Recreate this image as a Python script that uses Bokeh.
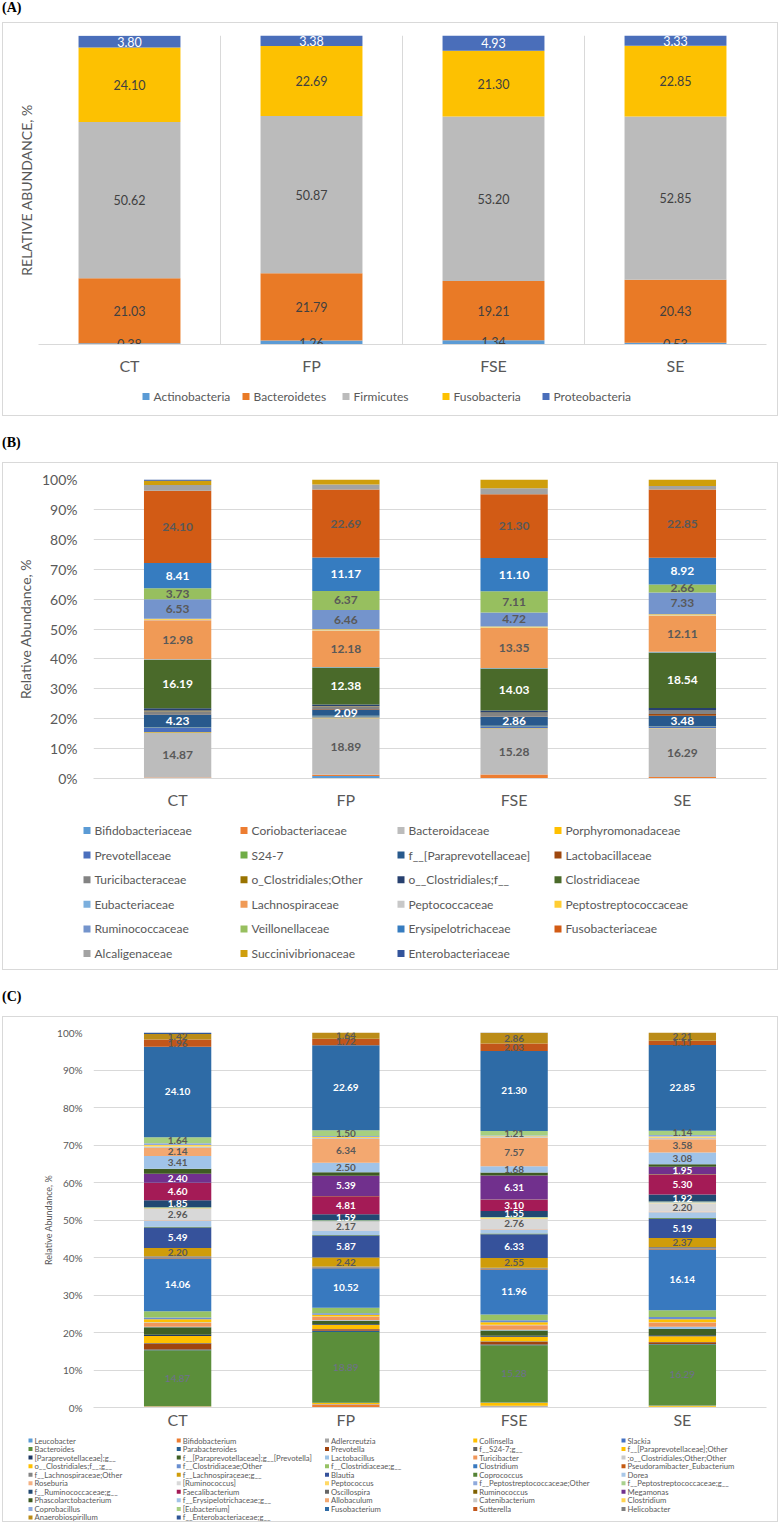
import numpy as np
from bokeh.plotting import figure
from bokeh.models import (ColumnDataSource, FixedTicker, PrintfTickFormatter, Div, Range1d)
from bokeh.layouts import column
from bokeh.embed import file_html
from bokeh.resources import INLINE
from bokeh.core.properties import value

FONT = "Lato"
GRID = "#D9D9D9"
AXIS_TXT = "#595959"
BOX = "1px solid #D9D9D9"
W = 774

groups = ["CT", "FP", "FSE", "SE"]
group_x = [0.5, 1.5, 2.5, 3.5]

# ---------------- Panel A : phylum level ----------------
phylum_names = ["Actinobacteria", "Bacteroidetes", "Firmicutes", "Fusobacteria", "Proteobacteria"]
actinobacteria = [0.38, 1.26, 1.34, 0.53]
bacteroidetes = [21.03, 21.79, 19.21, 20.43]
firmicutes = [50.62, 50.87, 53.20, 52.85]
fusobacteria = [24.10, 22.69, 21.30, 22.85]
proteobacteria = [3.80, 3.38, 4.93, 3.33]
phylum_colors = ["#5B9BD5", "#E97A26", "#BBBBBB", "#FDC101", "#4A6EBA"]
phylum_label_colors = ["#404040", "#404040", "#404040", "#404040", "#FFFFFF"]

# ---------------- Panel B : family level ----------------
family_names = [
    "Bifidobacteriaceae", "Coriobacteriaceae", "Bacteroidaceae", "Porphyromonadaceae",
    "Prevotellaceae", "S24-7", "f__[Paraprevotellaceae]", "Lactobacillaceae",
    "Turicibacteraceae", "o_Clostridiales;Other", "o__Clostridiales;f__", "Clostridiaceae",
    "Eubacteriaceae", "Lachnospiraceae", "Peptococcaceae", "Peptostreptococcaceae",
    "Ruminococcaceae", "Veillonellaceae", "Erysipelotrichaceae", "Fusobacteriaceae",
    "Alcaligenaceae", "Succinivibrionaceae", "Enterobacteriaceae"]
family_ct = [0.06, 0.30, 14.87, 0.20, 1.60, 0.13, 4.23, 0.10, 1.00, 0.20, 0.80, 16.19,
             0.20, 12.98, 0.20, 0.28, 6.53, 3.73, 8.41, 24.10, 1.96, 1.42, 0.42]
family_fp = [0.80, 0.44, 18.89, 0.30, 0.40, 0.11, 2.09, 0.20, 0.90, 0.10, 0.50, 12.38,
             0.15, 12.18, 0.16, 0.30, 6.46, 6.37, 11.17, 22.69, 1.72, 1.64, 0.02]
family_fse = [0.20, 1.12, 15.28, 0.20, 0.70, 0.17, 2.86, 0.15, 1.20, 0.15, 0.70, 14.03,
              0.20, 13.35, 0.20, 0.29, 4.72, 7.11, 11.10, 21.30, 2.03, 2.86, 0.04]
family_se = [0.03, 0.49, 16.29, 0.10, 0.46, 0.10, 3.48, 0.60, 1.10, 0.10, 0.80, 18.54,
             0.25, 12.11, 0.14, 0.30, 7.33, 2.66, 8.92, 22.85, 1.11, 2.21, 0.00]
family_colors = ["#5B9BD5", "#ED7D31", "#BCBCBC", "#FFC000", "#4A6FBD", "#70AD47",
                 "#28598C", "#9E480E", "#838383", "#997300", "#27406F", "#4A6A2A",
                 "#7CAFDD", "#F09A56", "#C8C8C8", "#FFCD33", "#7494CC", "#97BF5F",
                 "#367CC0", "#D25B15", "#A3A3A3", "#CF9E0C", "#33549B"]
family_label_idx = [2, 6, 11, 13, 16, 17, 18, 19]
family_label_colors = ["#595959", "#FFFFFF", "#FFFFFF", "#595959", "#595959", "#595959",
                       "#FFFFFF", "#595959"]

# ---------------- Panel C : genus level ----------------
genus_names = [
    "Leucobacter", "Bifidobacterium", "Adlercreutzia", "Collinsella", "Slackia",
    "Bacteroides", "Parabacteroides", "Prevotella", "f__S24-7;g__", "f__[Paraprevotellaceae];Other",
    "[Paraprevotellaceae];g__", "f__[Paraprevotellaceae];g__[Prevotella]", "Lactobacillus", "Turicibacter", ";o__Clostridiales;Other;Other",
    "o__Clostridiales;f__;g__", "f__Clostridiaceae;Other", "f__Clostridiaceae;g__", "Clostridium", "Pseudoramibacter_Eubacterium",
    "f__Lachnospiraceae;Other", "f__Lachnospiraceae;g__", "Blautia", "Coprococcus", "Dorea",
    "Roseburia", "[Ruminococcus]", "Peptococcus", "f__Peptostreptococcaceae;Other", "f__Peptostreptococcaceae;g__",
    "f__Ruminococcaceae;g__", "Faecalibacterium", "Oscillospira", "Ruminococcus", "Megamonas",
    "Phascolarctobacterium", "f__Erysipelotrichaceae;g__", "Allobaculum", "Catenibacterium", "Clostridium",
    "Coprobacillus", "[Eubacterium]", "Fusobacterium", "Sutterella", "Helicobacter",
    "Anaerobiospirillum", "f__Enterobacteriaceae;g__"]
genus_ct = [0.02, 0.06, 0.10, 0.15, 0.05, 14.87, 0.20, 1.60, 0.13, 1.90,
            0.33, 2.00, 0.10, 1.00, 0.20, 0.80, 0.50, 1.63, 14.06, 0.20,
            0.40, 2.20, 5.49, 0.20, 1.60, 0.13, 2.96, 0.20, 0.08, 0.20,
            1.85, 4.60, 0.05, 0.03, 2.40, 1.33, 3.41, 2.14, 0.40, 0.35,
            0.47, 1.64, 24.10, 1.96, 0.00, 1.42, 0.42]
genus_fp = [0.02, 0.80, 0.12, 0.28, 0.04, 18.89, 0.30, 0.40, 0.11, 1.10,
            0.19, 0.80, 0.20, 0.90, 0.10, 0.50, 0.40, 1.46, 10.52, 0.15,
            0.30, 2.42, 5.87, 0.15, 1.20, 0.07, 2.17, 0.16, 0.10, 0.20,
            1.59, 4.81, 0.04, 0.02, 5.39, 0.98, 2.50, 6.34, 0.30, 0.25,
            0.28, 1.50, 22.69, 1.72, 0.00, 1.64, 0.02]
genus_fse = [0.02, 0.20, 0.22, 0.80, 0.10, 15.28, 0.20, 0.70, 0.17, 1.20,
             0.26, 1.40, 0.15, 1.20, 0.15, 0.70, 0.50, 1.57, 11.96, 0.20,
             0.30, 2.55, 6.33, 0.20, 1.10, 0.11, 2.76, 0.20, 0.09, 0.20,
             1.55, 3.10, 0.05, 0.02, 6.31, 0.80, 1.68, 7.57, 0.25, 0.20,
             0.19, 1.21, 21.30, 2.03, 0.00, 2.86, 0.04]
genus_se = [0.01, 0.03, 0.15, 0.30, 0.04, 16.29, 0.10, 0.46, 0.10, 1.50,
            0.28, 1.70, 0.60, 1.10, 0.10, 0.80, 0.60, 1.80, 16.14, 0.25,
            0.45, 2.37, 5.19, 0.20, 1.50, 0.20, 2.20, 0.14, 0.10, 0.20,
            1.92, 5.30, 0.08, 0.03, 1.95, 0.71, 3.08, 3.58, 0.40, 0.30,
            0.42, 1.14, 22.85, 1.11, 0.01, 2.21, 0.00]
genus_colors = ["#5B9BD5", "#ED7D31", "#A5A5A5", "#FFC000", "#4472C4",
                "#5B8E3A", "#255E91", "#A0440F", "#636363", "#FFC000",
                "#1F3864", "#3F5F25", "#9DC3E6", "#F1975A", "#C9C9C9",
                "#FFC000", "#698ED0", "#97C265", "#3879BF", "#C55A11",
                "#848484", "#CF9C0A", "#36529B", "#548235", "#A9C8E8",
                "#F4B183", "#D8D8D8", "#FFD966", "#8FAADC", "#A9D18E",
                "#214872", "#A41B56", "#666666", "#7F6000", "#71308D",
                "#3E5A22", "#A0C3E8", "#F3A870", "#C9C9C9", "#FFD34F",
                "#8FAADC", "#A6CF80", "#2E6BA6", "#C2561A", "#7F7F7F",
                "#BB8C18", "#2F5597"]
genus_label_idx = [18, 21, 22, 26, 30, 31, 34, 36, 37, 41, 42, 43, 45]
genus_label_colors = ["#FFFFFF", "#595959", "#FFFFFF", "#595959", "#FFFFFF", "#FFFFFF",
                      "#FFFFFF", "#595959", "#595959", "#595959", "#FFFFFF", "#595959", "#595959"]
genus_soft_label_idx = [5]


def make_fig(height, left, right, top, bottom):
    p = figure(width=W, height=height, x_range=Range1d(0, 4), y_range=Range1d(0, 100),
               output_backend="svg", toolbar_location=None,
               min_border_left=left, min_border_right=right,
               min_border_top=top, min_border_bottom=bottom)
    p.frame_align = False
    p.outline_line_color = None
    xa = p.xaxis[0]
    xa.ticker = FixedTicker(ticks=group_x)
    xa.major_label_overrides = {gx: g for gx, g in zip(group_x, groups)}
    xa.major_tick_line_color = None
    xa.minor_tick_line_color = None
    xa.major_tick_out = 0
    xa.major_tick_in = 0
    xa.minor_tick_out = 0
    xa.axis_line_color = GRID
    xa.major_label_text_font = FONT
    xa.major_label_text_font_size = "16px"
    xa.major_label_text_color = AXIS_TXT
    ya = p.yaxis[0]
    ya.axis_line_color = None
    ya.major_tick_line_color = None
    ya.minor_tick_line_color = None
    ya.major_tick_out = 0
    ya.major_tick_in = 0
    ya.minor_tick_out = 0
    ya.axis_label_text_font = FONT
    ya.axis_label_text_font_style = "normal"
    ya.axis_label_text_color = AXIS_TXT
    ya.major_label_text_font = FONT
    ya.major_label_text_color = AXIS_TXT
    p.xgrid.grid_line_color = None
    p.ygrid.grid_line_color = GRID
    return p


def draw_stack(p, n, columns, colors, width, normalize):
    arr = np.array(columns, dtype=float)
    if normalize:
        arr = arr / arr.sum(axis=1, keepdims=True) * 100.0
    data = {"x": group_x}
    keys = []
    for i in range(n):
        k = "s%d" % i
        keys.append(k)
        data[k] = arr[:, i].tolist()
    src = ColumnDataSource(data)
    rs = p.vbar_stack(keys, x="x", width=width, fill_color=colors, line_color=None, source=src)
    return rs, arr


def label_source(arr, raw, idx, cols):
    tops = np.cumsum(arr, axis=1)
    mids = tops - arr / 2.0
    xs, ys, ts, cs = [], [], [], []
    for j in range(len(groups)):
        for i, c in zip(idx, cols):
            xs.append(group_x[j])
            ys.append(float(mids[j, i]))
            ts.append("%.2f" % raw[j][i])
            cs.append(c)
    return ColumnDataSource(dict(x=xs, y=ys, t=ts, c=cs))


def add_labels(p, src, size, style):
    p.text(x="x", y="y", text="t", text_color="c", source=src, text_align="center",
           text_baseline="middle", text_font=value(FONT), text_font_size=size,
           text_font_style=style)


def legend_fig(height, names, colors, ncols, x0, dx, y0, dy, sq, gap, fsize):
    lf = figure(width=W, height=height, x_range=Range1d(0, W), y_range=Range1d(height, 0),
                output_backend="svg", toolbar_location=None,
                x_axis_location=None, y_axis_location=None, min_border=0)
    lf.frame_align = False
    lf.outline_line_color = None
    lf.xgrid.visible = False
    lf.ygrid.visible = False
    n = len(names)
    xs = [x0 + (i % ncols) * dx for i in range(n)]
    ys = [y0 + (i // ncols) * dy for i in range(n)]
    lf.rect(x=[x + sq / 2.0 for x in xs], y=ys, width=sq, height=sq,
            fill_color=colors, line_color=None)
    lf.text(x=[x + sq + gap for x in xs], y=ys, text=names, text_align="left",
            text_baseline="middle", text_font=value(FONT), text_font_size=fsize,
            text_color=AXIS_TXT)
    return lf


def panel_label(txt, height, top):
    return Div(text=('<div style="position:relative;top:%dpx;font-family:\'Liberation Serif\',serif;'
                     'font-weight:bold;font-size:14px;line-height:16px;color:#000;">%s</div>') % (top, txt),
               width=W, height=height, margin=(0, 0, 0, 2))


def boxed(*children):
    return column(*children, spacing=0, margin=(0, 0, 0, 2), styles={"border": BOX})


# ---------------- Panel A ----------------
pA = make_fig(356, 35, 11, 12, 35)
pA.ygrid.grid_line_color = None
pA.yaxis[0].ticker = FixedTicker(ticks=[])
pA.yaxis[0].axis_label = "RELATIVE ABUNDANCE, %"
pA.yaxis[0].axis_label_text_font_size = "14px"
pA.yaxis[0].axis_label_standoff = 4
pA.xaxis[0].major_label_standoff = 11
pA.xgrid.grid_line_color = GRID
pA.xgrid.ticker = FixedTicker(ticks=[0, 1, 2, 3, 4])
colsA = [[actinobacteria[j], bacteroidetes[j], firmicutes[j], fusobacteria[j], proteobacteria[j]]
         for j in range(4)]
rsA, arrA = draw_stack(pA, 5, colsA, phylum_colors, 0.56, False)
add_labels(pA, label_source(arrA, colsA, list(range(5)), phylum_label_colors), "12.5px", "normal")
lgA = legend_fig(36, phylum_names, phylum_colors, 5, 139, 100, 17, 0, 7, 4, "12px")

# ---------------- Panel B ----------------
pB = make_fig(348, 90, 11, 16, 33)
pB.yaxis[0].ticker = FixedTicker(ticks=list(range(0, 101, 10)))
pB.yaxis[0].formatter = PrintfTickFormatter(format="%d%%")
pB.yaxis[0].major_label_text_font_size = "14px"
pB.yaxis[0].major_label_standoff = 16
pB.yaxis[0].axis_label = "Relative Abundance, %"
pB.yaxis[0].axis_label_text_font_size = "14px"
pB.yaxis[0].axis_label_standoff = 5
pB.xaxis[0].major_label_standoff = 11
colsB = [family_ct, family_fp, family_fse, family_se]
rsB, arrB = draw_stack(pB, len(family_names), colsB, family_colors, 0.4, True)
add_labels(pB, label_source(arrB, colsB, family_label_idx, family_label_colors), "12px", "bold")
lgB = legend_fig(158, family_names, family_colors, 4, 80, 157, 19, 24.6, 7, 4, "12px")

# ---------------- Panel C ----------------
pC = make_fig(414, 90, 11, 15, 22)
pC.yaxis[0].ticker = FixedTicker(ticks=list(range(0, 101, 10)))
pC.yaxis[0].formatter = PrintfTickFormatter(format="%d%%")
pC.yaxis[0].major_label_text_font_size = "10px"
pC.yaxis[0].major_label_standoff = 11
pC.yaxis[0].axis_label = "Relative Abundance, %"
pC.yaxis[0].axis_label_text_font_size = "9px"
pC.yaxis[0].axis_label_standoff = 0
pC.xaxis[0].major_label_standoff = 2
colsC = [genus_ct, genus_fp, genus_fse, genus_se]
rsC, arrC = draw_stack(pC, len(genus_names), colsC, genus_colors, 0.4, True)
add_labels(pC, label_source(arrC, colsC, genus_label_idx, genus_label_colors), "10px", "bold")
add_labels(pC, label_source(arrC, colsC, genus_soft_label_idx, ["#6F6F8F"]), "10px", "normal")
lgC = legend_fig(90, genus_names, genus_colors, 5, 25, 148.25, 9.0, 8.55, 4, 2, "7.7px")

layout = column(panel_label("(A)", 22, 0), boxed(pA, lgA),
                panel_label("(B)", 46, 19), boxed(pB, lgB),
                panel_label("(C)", 46, 19), boxed(pC, lgC), spacing=0)

with open("out.html", "w") as f:
    f.write(file_html(layout, INLINE))
